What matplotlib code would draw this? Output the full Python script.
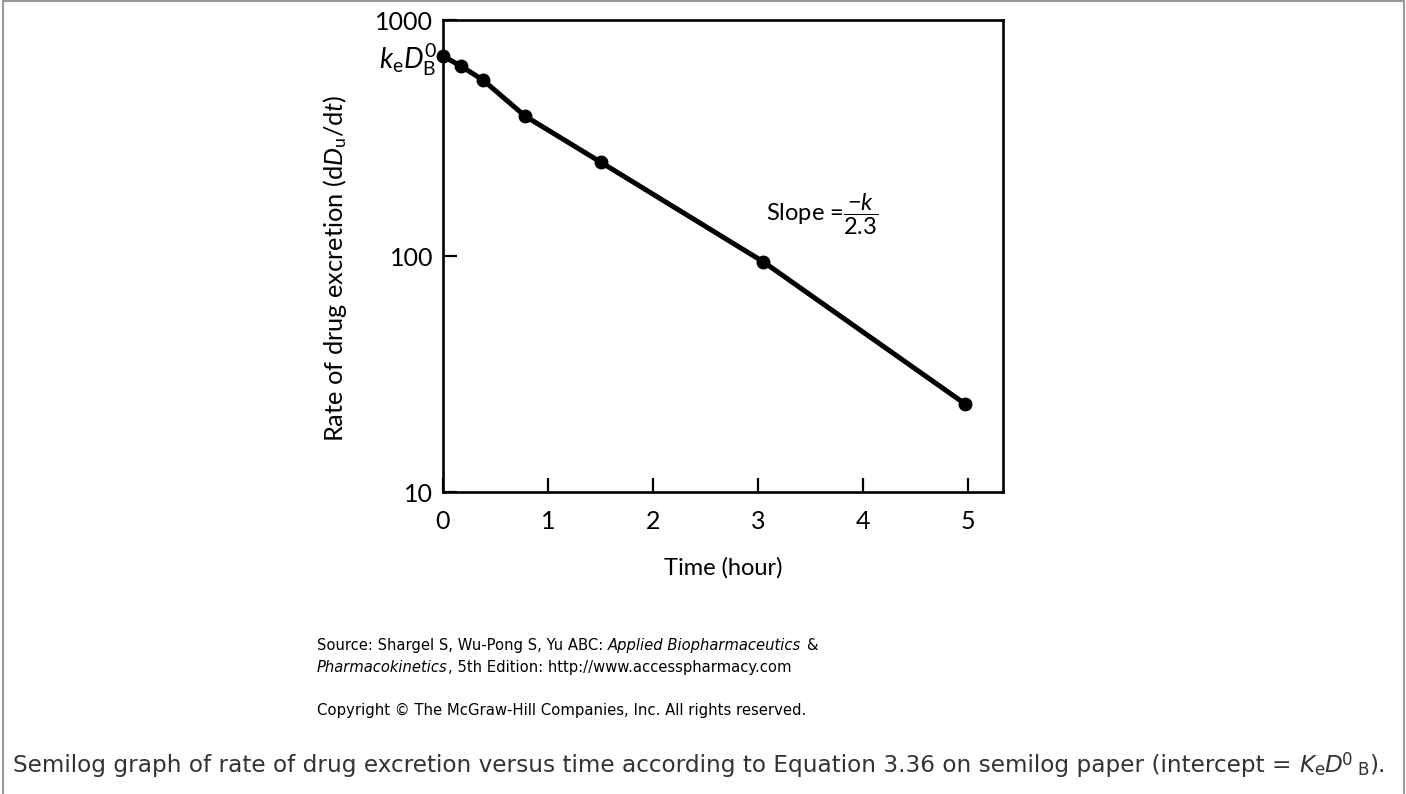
import matplotlib
matplotlib.use("Agg")
import matplotlib.pyplot as plt
from matplotlib.lines import Line2D
from matplotlib.ticker import FixedLocator, FixedFormatter, NullLocator

# ---------------- data ----------------
time_h = [0.0, 0.17, 0.38, 0.78, 1.50, 3.05, 4.97]
rate = [703, 638, 557, 392, 250, 94.4, 23.6]
x_ticks = [0, 1, 2, 3, 4, 5]
x_tick_labels = ["0", "1", "2", "3", "4", "5"]
y_ticks = [10, 100, 1000]
y_tick_labels = ["10", "100", "1000"]

W, H = 1406, 794
plt.rcParams['mathtext.fontset'] = 'custom'
plt.rcParams['mathtext.rm'] = 'Lato'
plt.rcParams['mathtext.it'] = 'Lato:italic'
plt.rcParams['font.family'] = ['Lato', 'DejaVu Sans']

fig = plt.figure(figsize=(W / 100, H / 100), dpi=100)
fig.patch.set_facecolor('white')

ax_left, ax_right, ax_top, ax_bottom = 443, 1003, 20, 492
ax = fig.add_axes([ax_left / W, 1 - ax_bottom / H, (ax_right - ax_left) / W, (ax_bottom - ax_top) / H])

ax.plot(time_h, rate, color='black', lw=3.6, marker='o', ms=9, clip_on=False, zorder=3)
ax.set_yscale('log')
ax.set_xlim(0, 5.33)
ax.set_ylim(10, 1000)

ax.xaxis.set_major_locator(FixedLocator(x_ticks))
ax.xaxis.set_major_formatter(FixedFormatter(x_tick_labels))
ax.yaxis.set_major_locator(FixedLocator(y_ticks))
ax.yaxis.set_major_formatter(FixedFormatter(y_tick_labels))
ax.yaxis.set_minor_locator(NullLocator())
ax.xaxis.set_minor_locator(NullLocator())

for s in ax.spines.values():
    s.set_linewidth(1.9)
ax.tick_params(axis='both', direction='in', length=10, width=1.6, labelsize=18, colors='black')
ax.tick_params(axis='x', pad=13)
ax.tick_params(axis='y', pad=7)

ax.set_xlabel('Time (hour)', fontsize=17)
ax.xaxis.set_label_coords(0.5, -(568 - ax_bottom) / (ax_bottom - ax_top))
ax.xaxis.label.set_va('center')

ax.set_ylabel(r'Rate of drug excretion (d$\mathit{D}_{\rm u}$/d$\mathit{t}$)', fontsize=18.3)
ax.yaxis.set_label_coords(-(ax_left - 335) / (ax_right - ax_left), (ax_bottom - 268) / (ax_bottom - ax_top))
ax.yaxis.label.set_va('center')

ax.annotate(r'$k_{\rm e}D^{\rm 0}_{\rm B}$', xy=(time_h[0], rate[0]), xytext=(-5, -3),
            textcoords='offset pixels', ha='right', va='center', fontsize=20)

ax.text(3.07, 150, r'Slope =$\dfrac{-k}{2.3}$', fontsize=17, ha='left', va='center')

# ---------------- frame ----------------
gray = '#999999'
fig.add_artist(Line2D([2.5 / W, 1403.5 / W], [1 - 0.8 / H, 1 - 0.8 / H], transform=fig.transFigure, color=gray, lw=1.5))
fig.add_artist(Line2D([2.5 / W, 2.5 / W], [0, 1], transform=fig.transFigure, color=gray, lw=1.5))
fig.add_artist(Line2D([1403.5 / W, 1403.5 / W], [0, 1], transform=fig.transFigure, color=gray, lw=1.5))

# ---------------- rich text helper ----------------
fig.canvas.draw()
renderer = fig.canvas.get_renderer()


def rich(x_px, y_px, pieces, family, size, color='black', weight='normal'):
    x = x_px
    for piece in pieces:
        txt = piece[0]
        kw = dict(piece[1]) if len(piece) > 1 else {}
        dy = kw.pop('dy', 0)
        sz = kw.pop('size', size)
        kw.setdefault('weight', weight)
        stripped = txt.rstrip(' ')
        ntrail = len(txt) - len(stripped)
        lead = len(stripped) - len(stripped.lstrip(' '))
        core = stripped.lstrip(' ')
        probe1 = fig.text(0, 0, 'a a', family=family, fontsize=sz, **kw)
        probe2 = fig.text(0, 0, 'aa', family=family, fontsize=sz, **kw)
        sw = probe1.get_window_extent(renderer).width - probe2.get_window_extent(renderer).width
        probe1.remove(); probe2.remove()
        x += lead * sw
        if core:
            t = fig.text(x / W, 1 - (y_px - dy) / H, core, family=family, fontsize=sz,
                         va='baseline', ha='left', color=color, **kw)
            x += t.get_window_extent(renderer).width
        x += ntrail * sw
    return x


src_font = ['DejaVu Sans']
rich(317, 650, [("Source: Shargel S, Wu-Pong S, Yu ABC: ",),
                ("Applied Biopharmaceutics", {'style': 'italic'}),
                (" &",)], src_font, 10.65)
rich(317, 672, [("Pharmacokinetics", {'style': 'italic'}),
                (", 5th Edition: http://www.accesspharmacy.com",)], src_font, 10.65)
rich(317, 715, [("Copyright \u00a9 The McGraw-Hill Companies, Inc. All rights reserved.",)], src_font, 10.75)

cap_font = ['DejaVu Sans']
rich(13, 772, [("Semilog graph of rate of drug excretion versus time according to Equation 3.36 on semilog paper (intercept = ",),
               ("K", {'style': 'italic'}),
               ("e", {'size': 12, 'dy': -3}),
               ("D", {'style': 'italic'}),
               ("0", {'size': 12, 'dy': 7}),
               (" B", {'size': 12, 'dy': -3}),
               (").",)], cap_font, 16.7, color='#333333')

fig.savefig('out.png', dpi=100, facecolor='white')
